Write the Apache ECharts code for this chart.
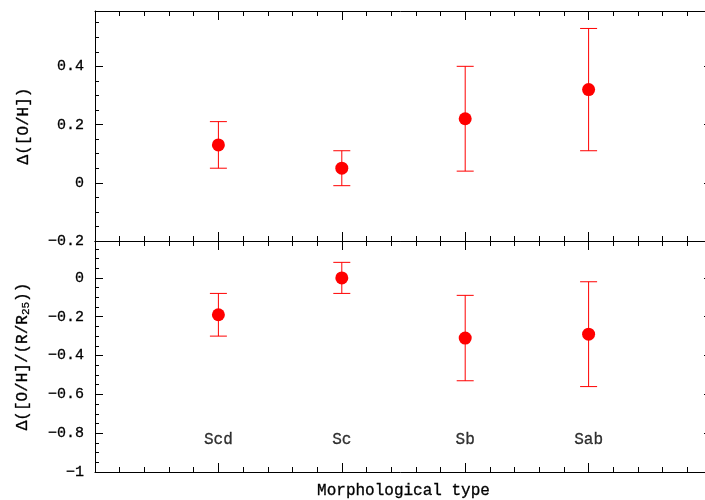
<!DOCTYPE html>
<html>
<head>
<meta charset="utf-8">
<script src="https://cdn.jsdelivr.net/npm/echarts@6/dist/echarts.min.js"></script>
<style>html,body{margin:0;padding:0;background:#fff;overflow:hidden}#c{width:705px;height:500px}</style>
</head>
<body>
<div id="c"></div>
<script>
// ---- data ----
var categories = ['Scd', 'Sc', 'Sb', 'Sab'];
var xPos = [1, 2, 3, 4];
var ohVal = [0.13, 0.05, 0.22, 0.32];
var ohLo  = [0.05, -0.01, 0.04, 0.11];
var ohHi  = [0.21, 0.11, 0.40, 0.53];
var gradVal = [-0.19, 0.00, -0.31, -0.29];
var gradLo  = [-0.30, -0.08, -0.53, -0.56];
var gradHi  = [-0.08, 0.08, -0.09, -0.02];
var topTicks = [-0.2, 0, 0.2, 0.4];
var bottomTicks = [-1, -0.8, -0.6, -0.4, -0.2, 0];
var xTicks = [0, 1, 2, 3, 4, 5];

// ---- layout / style ----
var topMax = 0.59, bottomMax = 0.19, labelY = -0.835;
var FONT = 'Liberation Mono';
var RED = '#ff0000';
var BLACK = '#000';
var TB = {textBorderColor: '#000', textBorderWidth: 0.3};

function fmt(v) {
  var a = parseFloat(Math.abs(v).toFixed(2)).toString();
  return (v < -1e-9 ? '\u2212' : '') + a;
}
function ext(o, extra) { for (var k in extra) o[k] = extra[k]; return o; }
function xAxis(grid, pos, extra) {
  return ext({
    type: 'value', gridIndex: grid, position: pos,
    min: xTicks[0], max: xTicks[xTicks.length - 1], interval: xTicks[1] - xTicks[0],
    axisLine: {show: true, onZero: false, lineStyle: {color: BLACK, width: 1}},
    axisTick: {show: true, inside: true, length: 9, lineStyle: {color: BLACK, width: 1}},
    minorTick: {show: true, splitNumber: 5, length: 5, lineStyle: {color: BLACK, width: 1}},
    axisLabel: {show: false}, splitLine: {show: false}, minorSplitLine: {show: false}
  }, extra);
}
function yAxis(grid, pos, ticks, max, interval, len, showLine, label, extra) {
  return ext({
    type: 'value', gridIndex: grid, position: pos,
    min: ticks[0], max: max, interval: interval,
    axisLine: {show: showLine, onZero: false, lineStyle: {color: BLACK, width: 1}},
    axisTick: {show: true, inside: true, length: len, lineStyle: {color: BLACK, width: 1}},
    axisLabel: label ? ext({show: true, formatter: fmt, margin: 11, color: BLACK,
      fontFamily: FONT, fontSize: 15, showMaxLabel: false}, TB) : {show: false},
    splitLine: {show: false}
  }, extra);
}
var nameStyle = ext({color: BLACK, fontFamily: FONT, fontSize: 16}, TB);

function errData(v, lo, hi) {
  return xPos.map(function (x, i) { return [x, v[i], lo[i], hi[i]]; });
}
function renderErr(params, api) {
  var x = api.value(0), lo = api.value(2), hi = api.value(3);
  var a = api.coord([x, hi]), b = api.coord([x, lo]);
  var w = 8.5, st = {stroke: RED, lineWidth: 1};
  return {type: 'group', children: [
    {type: 'line', shape: {x1: a[0], y1: a[1], x2: b[0], y2: b[1]}, style: st},
    {type: 'line', shape: {x1: a[0] - w, y1: a[1], x2: a[0] + w, y2: a[1]}, style: st},
    {type: 'line', shape: {x1: b[0] - w, y1: b[1], x2: b[0] + w, y2: b[1]}, style: st}
  ]};
}

var gTop = {left: 95, width: 617, top: 11, height: 230, outerBoundsMode: 'none', containLabel: false};
var gBot = {left: 95, width: 617, top: 241, height: 231, outerBoundsMode: 'none', containLabel: false};

var option = {
  animation: false,
  backgroundColor: '#fff',
  grid: [ext({}, gTop), ext({}, gBot), ext({}, gTop), ext({}, gBot)],
  xAxis: [
    xAxis(0, 'bottom', {}),
    xAxis(0, 'top', {}),
    xAxis(1, 'bottom', {name: 'Morphological type', nameLocation: 'middle', nameGap: 11,
      nameTextStyle: ext({color: BLACK, fontFamily: FONT, fontSize: 16, verticalAlign: 'top'}, TB)}),
    xAxis(1, 'top', {}),
    {type: 'value', gridIndex: 2, show: false, min: 0, max: 5},
    {type: 'value', gridIndex: 3, show: false, min: 0, max: 5}
  ],
  yAxis: [
    yAxis(0, 'left', topTicks, topMax, topTicks[1] - topTicks[0], 8, true, true,
      {name: '\u0394([O/H])', nameLocation: 'middle', nameRotate: 90, nameGap: 63, nameTextStyle: nameStyle}),
    yAxis(0, 'right', topTicks, topMax, topTicks[1] - topTicks[0], 8, true, false, {}),
    yAxis(1, 'left', bottomTicks, bottomMax, bottomTicks[1] - bottomTicks[0], 8, true, true,
      {name: '{a|\u0394([O/H]/(R/R}{s|25}{a|))}', nameLocation: 'middle', nameRotate: 90, nameGap: 63,
       nameTextStyle: ext({color: BLACK, fontFamily: FONT, fontSize: 16,
         rich: {a: ext({fontFamily: FONT, fontSize: 16, color: BLACK}, TB),
                s: ext({fontFamily: FONT, fontSize: 11, color: BLACK, verticalAlign: 'bottom', padding: [8, 0, 0, 0]}, {textBorderColor: '#000', textBorderWidth: 0.25})}}, TB)}),
    yAxis(1, 'right', bottomTicks, bottomMax, bottomTicks[1] - bottomTicks[0], 8, true, false, {}),
    yAxis(2, 'left', topTicks, topMax, 0.05, 4, false, false, {}),
    yAxis(2, 'right', topTicks, topMax, 0.05, 4, false, false, {}),
    yAxis(3, 'left', bottomTicks, bottomMax, 0.05, 4, false, false, {}),
    yAxis(3, 'right', bottomTicks, bottomMax, 0.05, 4, false, false, {})
  ],
  series: [
    {type: 'custom', xAxisIndex: 0, yAxisIndex: 0, renderItem: renderErr,
     encode: {x: 0, y: 1}, data: errData(ohVal, ohLo, ohHi), z: 2},
    {type: 'scatter', xAxisIndex: 0, yAxisIndex: 0, symbol: 'circle', symbolSize: 13,
     itemStyle: {color: RED, opacity: 1}, z: 3,
     data: xPos.map(function (x, i) { return [x, ohVal[i]]; })},
    {type: 'custom', xAxisIndex: 2, yAxisIndex: 2, renderItem: renderErr,
     encode: {x: 0, y: 1}, data: errData(gradVal, gradLo, gradHi), z: 2},
    {type: 'scatter', xAxisIndex: 2, yAxisIndex: 2, symbol: 'circle', symbolSize: 13,
     itemStyle: {color: RED, opacity: 1}, z: 3,
     data: xPos.map(function (x, i) { return [x, gradVal[i]]; })},
    {type: 'scatter', xAxisIndex: 2, yAxisIndex: 2, symbolSize: 0, silent: true,
     label: ext({show: true, position: [0, 0], align: 'center', verticalAlign: 'middle',
       color: BLACK, fontFamily: FONT, fontSize: 16,
       formatter: function (p) { return categories[p.dataIndex]; }}, TB),
     data: xPos.map(function (x) { return [x, labelY]; })}
  ]
};
var chart = echarts.init(document.getElementById('c'), null, {renderer: 'canvas'});
chart.setOption(option);
</script>
</body>
</html>
